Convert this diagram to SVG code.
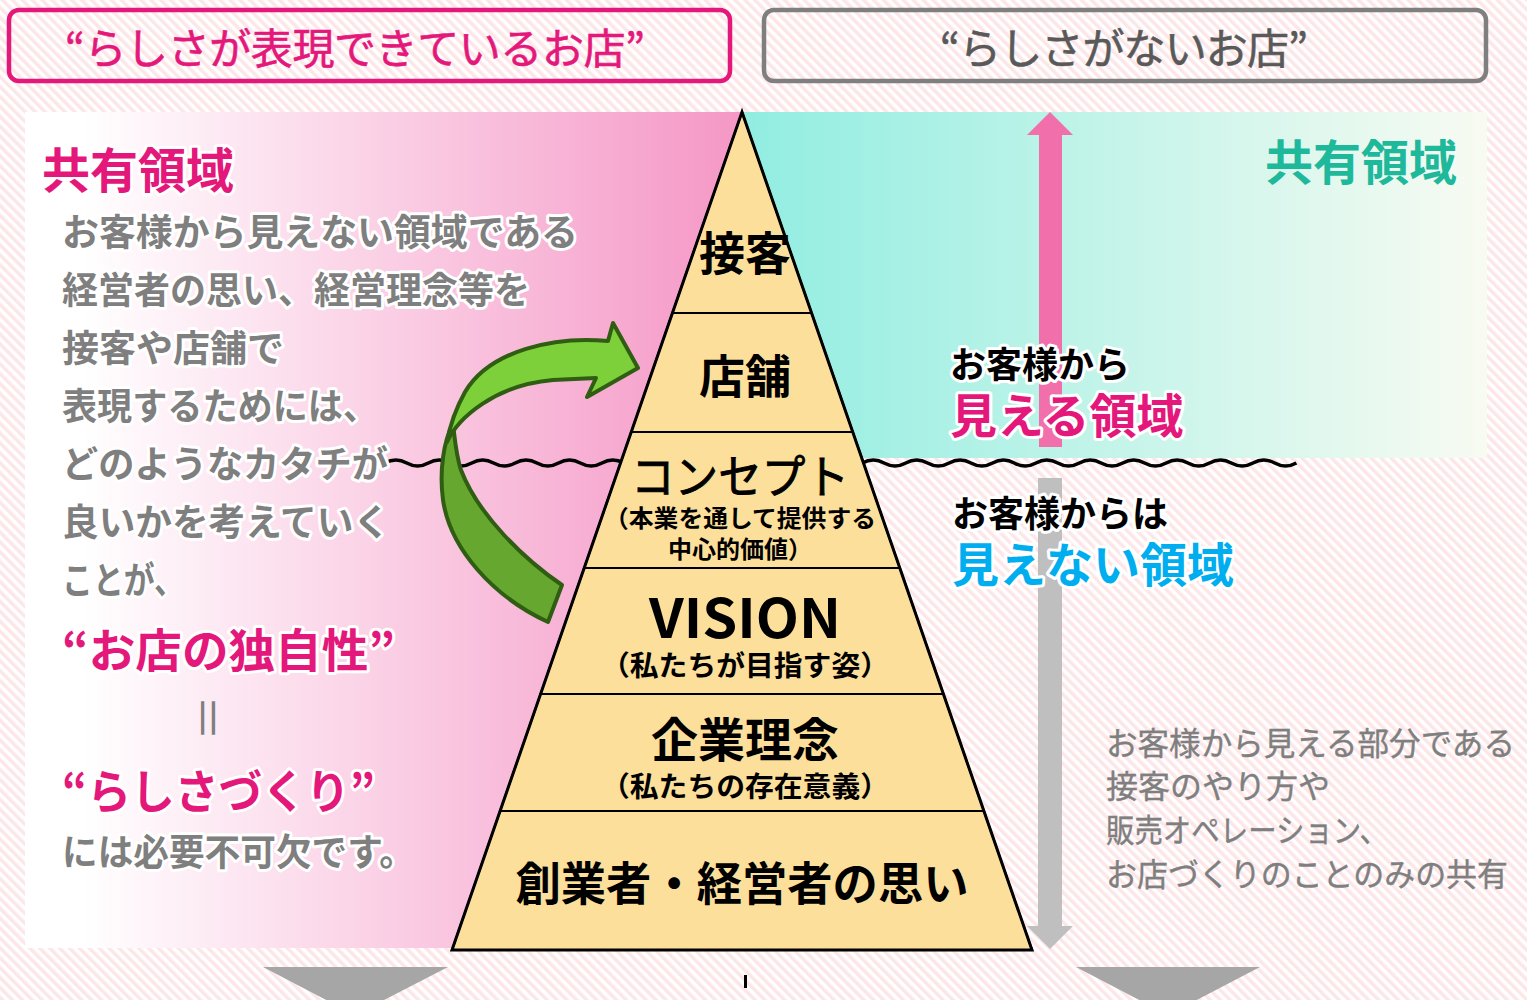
<svg xmlns="http://www.w3.org/2000/svg" width="1527" height="1000" viewBox="0 0 1527 1000">
<defs>
<pattern id="stripes" width="7" height="7" patternUnits="userSpaceOnUse" patternTransform="rotate(-45)">
<rect width="7" height="7" fill="#ffffff"/><rect width="3.5" height="7" fill="#fde6e8"/>
</pattern>
<linearGradient id="pinkGrad" x1="25" y1="0" x2="742" y2="0" gradientUnits="userSpaceOnUse">
<stop offset="0" stop-color="#ffffff"/><stop offset="0.08" stop-color="#ffffff"/><stop offset="1" stop-color="#f597c6"/>
</linearGradient>
<linearGradient id="tealGrad" x1="742" y1="0" x2="1487" y2="0" gradientUnits="userSpaceOnUse">
<stop offset="0" stop-color="#91ede1"/><stop offset="1" stop-color="#f8fbf2"/>
</linearGradient>
<style>
.jp{font-family:"Noto Sans CJK JP","Noto Sans",sans-serif;}
.halo{paint-order:stroke;stroke:#ffffff;stroke-width:6;stroke-linejoin:round;}
.gray{fill:#7f7f7f;}
.mag{fill:#e4177b;}
.tier{fill:#fddf9c;stroke:#000;stroke-width:2;}
.pt{fill:#000;text-anchor:middle;}
</style>
</defs>

<rect id="background" x="0" y="0" width="1527" height="1000" fill="url(#stripes)"/>

<g id="header-left">
<rect x="9" y="10" width="721" height="71" rx="10" fill="none" stroke="#e4177b" stroke-width="4.5"/>
<text class="jp mag" x="355" y="64" font-size="42" text-anchor="middle" textLength="580" lengthAdjust="spacing" stroke="#e4177b" stroke-width="0.6">“らしさが表現できているお店”</text>
</g>
<g id="header-right">
<rect x="764" y="10" width="722" height="71" rx="10" fill="none" stroke="#7f7f7f" stroke-width="4.5"/>
<text class="jp" fill="#595959" x="1124" y="64" font-size="42" text-anchor="middle" textLength="368" lengthAdjust="spacing" stroke="#595959" stroke-width="0.6">“らしさがないお店”</text>
</g>

<g id="panel-left">
<rect x="25" y="112" width="717" height="836" fill="url(#pinkGrad)"/>
</g>
<g id="panel-right">
<rect x="742" y="112" width="745" height="346" fill="url(#tealGrad)"/>
</g>

<g id="connectors">
<path id="wave" d="M385,463 q10.85,-6 21.7,0 t21.7,0 t21.7,0 t21.7,0 t21.7,0 t21.7,0 t21.7,0 t21.7,0 t21.7,0 t21.7,0 t21.7,0 t21.7,0 t21.7,0 t21.7,0 t21.7,0 t21.7,0 t21.7,0 t21.7,0 t21.7,0 t21.7,0 t21.7,0 t21.7,0 t21.7,0 t21.7,0 t21.7,0 t21.7,0 t21.7,0 t21.7,0 t21.7,0 t21.7,0 t21.7,0 t21.7,0 t21.7,0 t21.7,0 t21.7,0 t21.7,0 t21.7,0 t21.7,0 t21.7,0 t21.7,0 t21.7,0 t21.7,0" fill="none" stroke="#000" stroke-width="3.5"/>
<path id="arrow-up" d="M1039,447 L1039,135 L1027,135 L1050,112 L1073,135 L1062,135 L1062,447 Z" fill="#f16fab"/>
<path id="arrow-down" d="M1038,478 L1062,478 L1062,926 L1073,926 L1050,949 L1027,926 L1038,926 Z" fill="#bfbfbf"/>
<path id="chevron-left" d="M263,967 L448,967 L355,1015 Z" fill="#a6a6a6"/>
<path id="chevron-right" d="M1076,967 L1260,967 L1168,1015 Z" fill="#a6a6a6"/>
<rect id="tick" x="744" y="975" width="3" height="13" fill="#000"/>
<g id="green-arrow" stroke="#2f5e12" stroke-width="4" stroke-linejoin="round">
<path d="M548,622 L562,585 C525,560 478,515 461,470 C456,455 455,440 453,424 C444,440 439,470 443,500 C450,548 492,596 548,622 Z" fill="#66a72f"/>
<path d="M638,368 L613,323 L608,341 C555,336 490,350 465,392 C455,410 450,425 447,442 C458,418 495,385 553,380 L596,378 L587,397 Z" fill="#7dd039"/>
</g>
</g>

<g id="left-text" class="jp">
<text class="halo mag" x="42" y="188" font-size="48" font-weight="bold">共有領域</text>
<g class="halo gray" font-size="37" font-weight="bold">
<text x="62" y="246" textLength="516" lengthAdjust="spacingAndGlyphs">お客様から見えない領域である</text>
<text x="62" y="304" textLength="468" lengthAdjust="spacingAndGlyphs">経営者の思い、経営理念等を</text>
<text x="62" y="362">接客や店舗で</text>
<text x="62" y="420" textLength="316" lengthAdjust="spacingAndGlyphs">表現するためには、</text>
<text x="62" y="478" textLength="326" lengthAdjust="spacingAndGlyphs">どのようなカタチが</text>
<text x="62" y="536" textLength="328" lengthAdjust="spacingAndGlyphs">良いかを考えていく</text>
<text x="62" y="594" textLength="123" lengthAdjust="spacingAndGlyphs">ことが、</text>
<text x="62" y="866" textLength="353" lengthAdjust="spacingAndGlyphs">には必要不可欠です。</text>
</g>
<text class="halo mag" x="62" y="667" font-size="46" font-weight="bold" textLength="333" lengthAdjust="spacingAndGlyphs">“お店の独自性”</text>
<text class="gray" x="211" y="718" font-size="46" text-anchor="middle" dominant-baseline="central" transform="rotate(90 211 718)">＝</text>
<text class="halo mag" x="62" y="808" font-size="46" font-weight="bold" textLength="313" lengthAdjust="spacingAndGlyphs">“らしさづくり”</text>
</g>

<g id="right-text" class="jp">
<text x="1265" y="180" font-size="48" font-weight="bold" fill="#1eb89b">共有領域</text>
<text class="halo" x="950" y="378" font-size="36" font-weight="bold" fill="#000">お客様から</text>
<text class="halo mag" x="950" y="433" font-size="47" font-weight="bold">見える領域</text>
<text class="halo" x="952" y="527" font-size="36" font-weight="bold" fill="#000">お客様からは</text>
<text class="halo" x="952" y="582" font-size="47" font-weight="bold" fill="#00aeef">見えない領域</text>
<g class="gray" font-size="32" stroke="#7f7f7f" stroke-width="0.4">
<text x="1106" y="755" textLength="409" lengthAdjust="spacingAndGlyphs">お客様から見える部分である</text>
<text x="1106" y="798">接客のやり方や</text>
<text x="1106" y="842" textLength="282" lengthAdjust="spacingAndGlyphs">販売オペレーション、</text>
<text x="1106" y="886" textLength="402" lengthAdjust="spacingAndGlyphs">お店づくりのことのみの共有</text>
</g>
</g>

<g id="pyramid" class="jp">
<g id="tier-service">
<polygon class="tier" points="742,112 811.6,313 672.4,313"/>
<text class="pt" x="745" y="270" font-size="46" font-weight="bold">接客</text>
</g>
<g id="tier-store">
<polygon class="tier" points="672.4,313 811.6,313 852.8,432 631.2,432"/>
<text class="pt" x="745" y="393" font-size="46" font-weight="bold">店舗</text>
</g>
<g id="tier-concept">
<polygon class="tier" points="631.2,432 852.8,432 899.8,568 584.2,568"/>
<text class="pt" x="740" y="493" font-size="46" stroke="#000" stroke-width="0.9" textLength="218" lengthAdjust="spacingAndGlyphs">コンセプト</text>
<text class="pt" x="740" y="527" font-size="24" font-weight="bold" textLength="272" lengthAdjust="spacingAndGlyphs">（本業を通して提供する</text>
<text class="pt" x="740" y="558" font-size="24" font-weight="bold">中心的価値）</text>
</g>
<g id="tier-vision">
<polygon class="tier" points="584.2,568 899.8,568 943.4,694 540.6,694"/>
<text class="pt" x="745" y="638" font-size="54" font-weight="bold" textLength="192" lengthAdjust="spacingAndGlyphs">VISION</text>
<text class="pt" x="745" y="676" font-size="28" font-weight="bold" textLength="288" lengthAdjust="spacingAndGlyphs">（私たちが目指す姿）</text>
</g>
<g id="tier-philosophy">
<polygon class="tier" points="540.6,694 943.4,694 983.9,811 500.1,811"/>
<text class="pt" x="745" y="757" font-size="47" font-weight="bold">企業理念</text>
<text class="pt" x="745" y="797" font-size="28" font-weight="bold" textLength="288" lengthAdjust="spacingAndGlyphs">（私たちの存在意義）</text>
</g>
<g id="tier-founder">
<polygon class="tier" points="500.1,811 983.9,811 1032,950 452,950"/>
<text class="pt" x="742" y="900" font-size="46" font-weight="bold" textLength="453" lengthAdjust="spacingAndGlyphs">創業者・経営者の思い</text>
</g>
<polygon points="742,112 1032,950 452,950" fill="none" stroke="#000" stroke-width="3" stroke-linejoin="miter"/>
</g>
</svg>
